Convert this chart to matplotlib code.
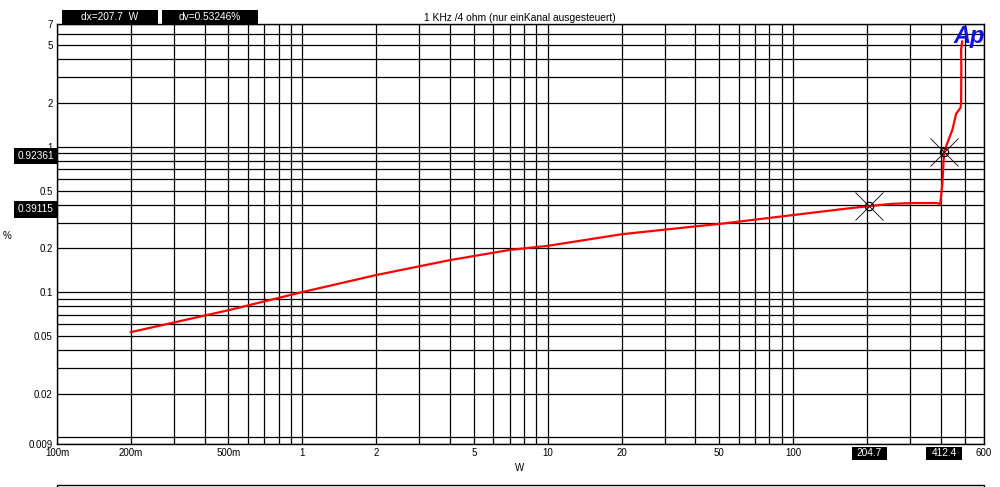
import matplotlib
matplotlib.use("Agg")
import matplotlib.pyplot as plt
from matplotlib.patches import Rectangle
from matplotlib.ticker import FixedLocator, NullLocator

plt.rcParams['font.family'] = ['Liberation Sans', 'DejaVu Sans']

# measured curve: power (W) vs THD+N (%)
power = [0.2, 0.5, 1.0, 2.0, 4.0, 7.0, 10.0, 20.0, 39.0, 51.5, 103.0, 160.0,
         204.7, 253.0, 311.0, 384.0, 398.0, 406.0, 412.4, 446.0, 462.0, 481.0,
         484.0, 485.0, 484.0, 489.0]
thd = [0.053, 0.075, 0.1, 0.131, 0.166, 0.195, 0.208, 0.25, 0.282, 0.296, 0.341, 0.373,
       0.391, 0.405, 0.41, 0.41, 0.405, 0.56, 0.924, 1.31, 1.69, 1.85,
       2.0, 3.4, 4.67, 5.3]

cursor_x = [204.7, 412.4]
cursor_y = [0.39115, 0.92361]

# the "200" label sits under the cursor readout box, so it is left out
xticks = [0.1, 0.2, 0.5, 1, 2, 5, 10, 20, 50, 100, 600]
xlabels = ['100m', '200m', '500m', '1', '2', '5', '10', '20', '50', '100', '600']
yticks = [0.009, 0.02, 0.05, 0.1, 0.2, 0.5, 1, 2, 5, 7]
ylabels = ['0.009', '0.02', '0.05', '0.1', '0.2', '0.5', '1', '2', '5', '7']

W, H = 1000, 487
fig = plt.figure(figsize=(10, 4.87), dpi=100)


def fx(px):
    return px / W


def fy(py):
    return 1 - py / H


ax = fig.add_axes([fx(57), fy(444), fx(984) - fx(57), (444 - 24) / H])
ax.set_xscale('log')
ax.set_yscale('log')
ax.set_xlim(0.1, 600)
ax.set_ylim(0.009, 7)

# grid at every 1..9 multiple
xgrid = [m * 10 ** e for e in range(-1, 3) for m in range(1, 10) if 0.1 <= m * 10 ** e <= 600]
ygrid = [m * 10 ** e for e in range(-3, 1) for m in range(1, 10) if 0.009 <= m * 10 ** e <= 7]
for g in xgrid:
    ax.axvline(g, color='black', lw=0.9, zorder=1)
for g in ygrid:
    ax.axhline(g, color='black', lw=0.9, zorder=1)

ax.plot(power, thd, color='#ff0000', lw=1.6, zorder=3)
ax.plot(cursor_x, cursor_y, 'o', ms=6, mfc='none', mec='black', mew=0.9, zorder=4)
ax.plot(cursor_x, cursor_y, 'x', ms=20, mec='black', mew=0.6, zorder=4)

ax.xaxis.set_major_locator(FixedLocator(xticks))
ax.xaxis.set_minor_locator(NullLocator())
ax.set_xticklabels(xlabels)
ax.yaxis.set_major_locator(FixedLocator(yticks))
ax.yaxis.set_minor_locator(NullLocator())
ax.set_yticklabels(ylabels)
ax.tick_params(length=0, labelsize=7, pad=3)
for s in ax.spines.values():
    s.set_linewidth(1.0)

fig.text(fx(520), fy(468), 'W', fontsize=7, ha='center', va='center')
fig.text(fx(7), fy(236), '%', fontsize=7, ha='center', va='center')
fig.text(fx(520), fy(18), '1 KHz /4 ohm (nur einKanal ausgesteuert)', fontsize=7.4,
         ha='center', va='center')
fig.text(fx(969), fy(37), 'Ap', fontsize=17, fontweight='bold', fontstyle='italic',
         color='#1010e0', ha='center', va='center')


def label_box(x0, y0, x1, y1, txt, size=7.3):
    fig.patches.append(Rectangle((fx(x0), fy(y1)), fx(x1) - fx(x0), (y1 - y0) / H,
                                 transform=fig.transFigure, facecolor='black',
                                 edgecolor='none', zorder=5))
    fig.text(fx((x0 + x1) / 2), fy((y0 + y1) / 2), txt, color='white', fontsize=size,
             ha='center', va='center', zorder=6)


label_box(62, 10, 158, 24, 'dx=207.7  W')
label_box(162, 10, 258, 24, 'dv=0.53246%')
label_box(14, 148, 57, 164, '0.92361')
label_box(14, 201, 57, 218, '0.39115')
label_box(852, 447, 887, 460, '204.7')
label_box(926, 447, 962, 460, '412.4')

# top of the next panel below
fig.patches.append(Rectangle((fx(57), fy(520)), fx(984) - fx(57), (520 - 485) / H,
                             transform=fig.transFigure, facecolor='none',
                             edgecolor='black', lw=1.0))

fig.savefig('out.png', dpi=100)
